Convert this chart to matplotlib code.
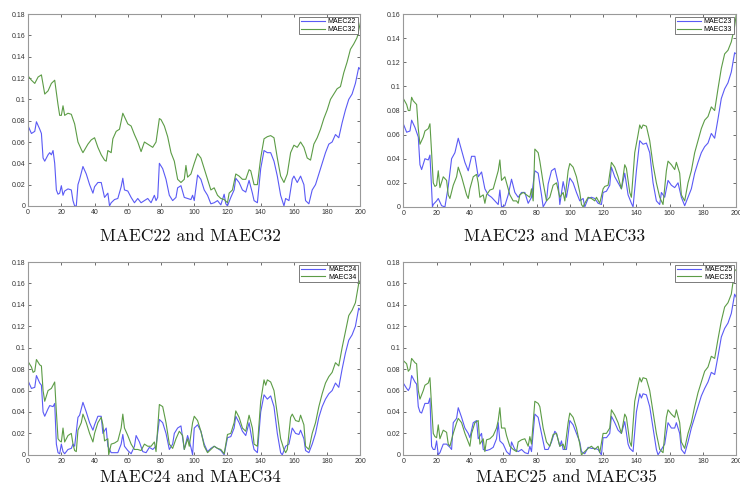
import matplotlib
matplotlib.use('Agg')
import matplotlib.pyplot as plt
from matplotlib.ticker import FuncFormatter, MultipleLocator

# MAEC22 / MAEC32
x22 = [0,2,4,5,7,8,9,10,12,13,14,15,16,17,18,19,20,21,22,24,26,27,28,29,30,31,33,35,37,39,40,42,44,46,48,49,50,52,54,56,57,58,60,62,64,66,68,70,72,74,76,77,78,79,81,83,85,87,89,90,92,94,96,98,99,100,102,104,106,108,110,112,114,116,118,119,120,122,124,125,127,129,131,133,135,136,138,140,142,144,146,148,150,152,154,155,157,159,160,162,164,166,167,169,171,173,175,177,179,181,183,185,187,189,191,193,195,197,199,200]
y22 = [0.075,0.068,0.070,0.079,0.072,0.068,0.045,0.042,0.048,0.050,0.048,0.052,0.040,0.015,0.011,0.012,0.019,0.010,0.014,0.016,0.015,0.005,0.0,0.0,0.020,0.025,0.037,0.030,0.020,0.012,0.018,0.022,0.022,0.008,0.012,0.0,0.003,0.006,0.007,0.018,0.026,0.015,0.014,0.008,0.003,0.007,0.003,0.005,0.007,0.003,0.010,0.005,0.008,0.040,0.035,0.025,0.010,0.005,0.008,0.017,0.019,0.008,0.007,0.006,0.010,0.005,0.029,0.025,0.015,0.010,0.002,0.003,0.005,0.001,0.011,0.002,0.0,0.008,0.015,0.026,0.022,0.015,0.013,0.024,0.012,0.005,0.003,0.035,0.052,0.050,0.050,0.042,0.028,0.010,0.0,0.007,0.005,0.025,0.028,0.022,0.028,0.020,0.005,0.002,0.015,0.020,0.030,0.040,0.050,0.058,0.060,0.067,0.064,0.078,0.090,0.100,0.105,0.115,0.130,0.128]
x32 = [0,2,4,6,8,10,12,14,16,18,19,20,21,22,24,26,28,30,32,33,36,38,40,42,44,46,47,48,50,51,53,55,57,60,62,64,66,68,70,72,75,77,79,80,82,84,86,88,90,92,94,95,96,98,100,102,104,106,108,110,112,114,116,118,120,121,123,125,127,129,131,133,134,136,138,140,142,144,146,148,150,152,154,156,158,160,162,164,166,168,170,172,174,176,178,180,182,184,186,188,190,192,194,196,198,200]
y32 = [0.122,0.118,0.115,0.121,0.123,0.105,0.108,0.115,0.118,0.095,0.085,0.085,0.094,0.085,0.087,0.086,0.077,0.060,0.053,0.050,0.058,0.062,0.064,0.055,0.048,0.043,0.042,0.052,0.050,0.063,0.070,0.072,0.087,0.077,0.075,0.067,0.060,0.051,0.060,0.058,0.055,0.060,0.082,0.081,0.075,0.065,0.050,0.042,0.025,0.022,0.025,0.038,0.027,0.030,0.040,0.049,0.045,0.035,0.025,0.015,0.017,0.010,0.007,0.006,0.003,0.012,0.015,0.030,0.028,0.025,0.025,0.034,0.033,0.020,0.020,0.045,0.063,0.065,0.066,0.064,0.045,0.028,0.022,0.030,0.050,0.057,0.055,0.060,0.055,0.045,0.043,0.058,0.064,0.072,0.082,0.090,0.100,0.105,0.110,0.112,0.125,0.135,0.147,0.152,0.158,0.172]

# MAEC23 / MAEC33
x23 = [0,2,4,5,7,9,10,11,13,15,16,17,17.5,18,20,21,23,25,27,29,31,33,35,37,39,41,43,45,47,49,51,53,55,57,58,59,61,63,65,67,69,71,73,75,77,79,81,83,84,86,87,89,91,93,94,96,98,100,102,104,106,108,109,111,113,115,117,119,120,122,124,125,127,129,131,133,135,137,138,140,142,144,146,148,150,152,154,155,157,159,161,163,165,167,169,171,173,175,177,179,181,183,185,187,189,191,193,195,197,199,200]
y23 = [0.069,0.062,0.063,0.072,0.066,0.058,0.035,0.031,0.040,0.039,0.043,0.015,0.0,0.002,0.005,0.007,0.001,0.0,0.017,0.040,0.045,0.057,0.047,0.037,0.030,0.042,0.042,0.025,0.029,0.015,0.010,0.008,0.005,0.002,0.014,0.0,0.001,0.010,0.023,0.012,0.008,0.012,0.012,0.003,0.008,0.030,0.028,0.010,0.0,0.005,0.019,0.030,0.032,0.020,0.002,0.021,0.008,0.024,0.020,0.012,0.005,0.007,0.0,0.007,0.008,0.007,0.003,0.002,0.012,0.013,0.018,0.033,0.025,0.020,0.015,0.028,0.010,0.003,0.0,0.030,0.055,0.052,0.053,0.045,0.020,0.005,0.002,0.012,0.008,0.022,0.018,0.016,0.020,0.008,0.001,0.008,0.015,0.028,0.037,0.045,0.050,0.053,0.061,0.057,0.073,0.090,0.098,0.103,0.112,0.128,0.127]
x33 = [0,2,3,4,5,6,8,9,10,12,13,15,16,17,18,19,20,21,22,24,26,27,28,30,32,33,35,37,38,39,40,42,44,45,46,48,49,50,52,54,56,57,58,59,61,62,64,66,68,69,70,72,74,76,77,78,79,81,82,84,86,88,90,92,94,96,97,99,100,102,104,106,107,108,109,111,113,115,116,118,120,121,123,125,127,129,131,133,134,136,137,139,141,142,143,144,146,148,150,152,154,156,158,159,161,163,164,166,167,169,171,173,175,177,179,181,183,185,187,189,191,193,195,197,199,200]
y33 = [0.090,0.085,0.080,0.080,0.091,0.088,0.085,0.065,0.052,0.058,0.063,0.065,0.069,0.045,0.020,0.017,0.018,0.030,0.016,0.025,0.022,0.010,0.007,0.018,0.025,0.033,0.025,0.015,0.010,0.007,0.015,0.025,0.027,0.020,0.008,0.010,0.003,0.010,0.014,0.015,0.025,0.030,0.039,0.022,0.025,0.020,0.010,0.005,0.005,0.003,0.010,0.012,0.010,0.008,0.015,0.005,0.048,0.045,0.038,0.020,0.005,0.008,0.018,0.020,0.008,0.012,0.005,0.030,0.036,0.033,0.025,0.012,0.002,0.0,0.003,0.008,0.007,0.005,0.008,0.003,0.015,0.017,0.018,0.037,0.033,0.025,0.015,0.035,0.032,0.012,0.008,0.045,0.060,0.068,0.065,0.068,0.067,0.055,0.035,0.020,0.008,0.002,0.030,0.038,0.035,0.031,0.037,0.028,0.010,0.005,0.020,0.030,0.045,0.055,0.065,0.072,0.075,0.083,0.080,0.098,0.115,0.127,0.130,0.137,0.150,0.160]

# MAEC24 / MAEC34
x24 = [0,2,4,5,7,8,9,10,12,13,15,16,17,18,19,20,21,22,24,26,27,28,30,31,33,35,37,39,40,42,44,45,47,48,50,52,54,56,57,58,60,62,64,65,67,69,71,73,75,77,79,81,83,85,87,88,90,92,94,96,98,99,100,102,104,106,108,110,112,114,116,118,120,122,124,125,127,129,131,133,135,136,138,140,142,144,146,148,150,152,153,155,157,159,161,163,164,166,167,169,171,173,175,177,179,181,183,185,187,189,191,193,195,197,199,200]
y24 = [0.069,0.062,0.063,0.074,0.067,0.065,0.040,0.036,0.043,0.046,0.045,0.048,0.010,0.002,0.001,0.010,0.003,0.001,0.005,0.006,0.010,0.008,0.035,0.037,0.049,0.040,0.030,0.023,0.028,0.036,0.036,0.020,0.025,0.008,0.002,0.002,0.002,0.010,0.019,0.008,0.004,0.001,0.008,0.018,0.012,0.003,0.002,0.007,0.005,0.008,0.033,0.030,0.020,0.005,0.010,0.020,0.025,0.027,0.005,0.018,0.007,0.0,0.025,0.028,0.022,0.010,0.003,0.006,0.008,0.006,0.004,0.0,0.016,0.017,0.025,0.036,0.030,0.022,0.018,0.030,0.012,0.005,0.002,0.040,0.056,0.052,0.055,0.045,0.020,0.002,0.0,0.008,0.010,0.025,0.020,0.019,0.023,0.015,0.004,0.002,0.010,0.020,0.035,0.045,0.052,0.057,0.060,0.067,0.063,0.080,0.095,0.107,0.112,0.120,0.137,0.135]
x34 = [0,2,3,4,5,7,8,9,10,12,14,15,16,17,18,19,20,21,22,24,26,27,28,29,30,32,33,35,37,39,40,42,44,45,46,48,48.5,50,52,54,56,57,58,60,62,64,66,68,70,72,74,76,77,79,81,83,85,87,89,91,93,94,96,97,99,100,102,104,106,108,110,112,114,116,118,120,122,124,125,127,129,131,133,135,136,138,140,142,143,144,146,148,150,152,154,155,156,158,159,161,163,164,166,167,169,171,173,175,177,179,181,183,185,187,189,191,193,195,197,199,200]
y34 = [0.087,0.082,0.077,0.078,0.089,0.084,0.083,0.060,0.050,0.060,0.062,0.065,0.068,0.040,0.015,0.013,0.012,0.025,0.012,0.018,0.020,0.010,0.004,0.003,0.023,0.030,0.038,0.030,0.020,0.012,0.020,0.030,0.035,0.028,0.013,0.015,0.0,0.010,0.011,0.013,0.025,0.038,0.025,0.018,0.010,0.005,0.005,0.004,0.010,0.008,0.008,0.012,0.003,0.047,0.045,0.030,0.010,0.006,0.015,0.022,0.018,0.005,0.015,0.008,0.030,0.036,0.032,0.022,0.008,0.002,0.005,0.008,0.006,0.005,0.001,0.019,0.020,0.030,0.041,0.035,0.025,0.022,0.037,0.025,0.010,0.008,0.050,0.070,0.065,0.070,0.068,0.060,0.038,0.015,0.005,0.002,0.005,0.035,0.038,0.032,0.031,0.037,0.028,0.008,0.005,0.020,0.030,0.045,0.057,0.067,0.073,0.077,0.086,0.083,0.100,0.115,0.130,0.135,0.142,0.160,0.163]

# MAEC25 / MAEC35
x25 = [0,2,3,4,5,7,8,9,10,11,13,15,16,17,18,19,20,21,22,24,26,28,29,30,32,33,35,37,39,40,42,44,45,47,48,50,52,54,56,57,58,60,62,64,65,67,69,71,73,75,76,77,79,81,83,85,87,89,91,92,94,95,96,98,100,102,104,106,107,109,111,113,115,117,119,120,122,124,125,127,129,131,133,135,136,138,140,142,143,144,146,148,150,152,153,155,157,159,161,163,164,166,167,169,171,173,175,177,179,181,183,185,187,189,191,193,195,197,199,200]
y25 = [0.067,0.062,0.060,0.063,0.074,0.068,0.066,0.045,0.040,0.039,0.048,0.048,0.053,0.008,0.005,0.005,0.013,0.0,0.002,0.010,0.010,0.007,0.005,0.030,0.034,0.044,0.035,0.025,0.020,0.016,0.030,0.032,0.015,0.020,0.005,0.004,0.005,0.007,0.015,0.030,0.013,0.010,0.003,0.0,0.012,0.005,0.003,0.005,0.002,0.001,0.008,0.003,0.038,0.035,0.020,0.005,0.005,0.012,0.022,0.020,0.008,0.013,0.005,0.005,0.032,0.028,0.020,0.012,0.003,0.001,0.007,0.006,0.006,0.005,0.0,0.016,0.016,0.020,0.036,0.030,0.023,0.020,0.031,0.010,0.006,0.003,0.040,0.057,0.053,0.057,0.056,0.045,0.025,0.005,0.0,0.005,0.010,0.030,0.025,0.025,0.030,0.020,0.005,0.001,0.012,0.025,0.035,0.045,0.055,0.062,0.068,0.077,0.075,0.092,0.110,0.118,0.123,0.132,0.150,0.147]
x35 = [0,2,3,4,5,7,8,9,10,12,13,15,16,17,18,19,20,21,22,24,26,27,28,30,32,33,35,37,39,40,41,43,45,46,48,49,50,52,54,56,57,58,59,61,62,64,66,68,69,71,73,75,76,77,79,81,82,84,86,88,90,92,94,96,97,99,100,102,104,106,107,109,111,113,115,117,118,120,122,124,125,127,129,131,133,134,136,137,139,141,142,143,144,146,148,150,152,154,156,158,159,161,163,164,166,167,169,171,173,175,177,179,181,183,185,187,189,191,193,195,197,199,200]
y35 = [0.088,0.085,0.078,0.080,0.090,0.086,0.085,0.060,0.052,0.060,0.065,0.067,0.072,0.045,0.020,0.017,0.016,0.028,0.015,0.023,0.021,0.010,0.008,0.020,0.030,0.034,0.030,0.020,0.012,0.008,0.020,0.030,0.032,0.010,0.015,0.003,0.014,0.015,0.018,0.025,0.032,0.044,0.025,0.025,0.018,0.008,0.005,0.003,0.012,0.014,0.015,0.008,0.017,0.010,0.050,0.048,0.045,0.025,0.012,0.008,0.019,0.020,0.008,0.010,0.005,0.030,0.039,0.035,0.025,0.010,0.0,0.003,0.006,0.008,0.005,0.008,0.002,0.020,0.020,0.025,0.042,0.037,0.030,0.020,0.038,0.035,0.012,0.008,0.050,0.065,0.072,0.068,0.072,0.071,0.060,0.040,0.020,0.005,0.002,0.035,0.042,0.038,0.035,0.042,0.030,0.012,0.006,0.020,0.030,0.045,0.058,0.068,0.078,0.082,0.092,0.090,0.108,0.125,0.138,0.142,0.150,0.172,0.173]

panels = [
    (x22, y22, x32, y32, 'MAEC22', 'MAEC32', 0.18),
    (x23, y23, x33, y33, 'MAEC23', 'MAEC33', 0.16),
    (x24, y24, x34, y34, 'MAEC24', 'MAEC34', 0.18),
    (x25, y25, x35, y35, 'MAEC25', 'MAEC35', 0.18),
]

#  axes boxes in figure fractions (left, bottom, width, height)
boxes = [
    [0.038, 0.578, 0.449, 0.393],
    [0.545, 0.576, 0.450, 0.395],
    [0.038, 0.068, 0.449, 0.395],
    [0.545, 0.068, 0.450, 0.395],
]
caption_pos = [(0.257, 0.515), (0.750, 0.515), (0.257, 0.022), (0.765, 0.022)]

blue = '#5a5af5'
green = '#5c9c46'

fig = plt.figure(figsize=(7.4, 4.88), dpi=100)

for i in range(4):
    xa, ya, xb, yb, la, lb, ytop = panels[i]
    ax = fig.add_axes(boxes[i])
    ax.plot(xa, ya, color=blue, lw=0.8, label=la)
    ax.plot(xb, yb, color=green, lw=0.8, label=lb)
    ax.set_xlim(0, 200)
    ax.set_ylim(0, ytop)
    ax.xaxis.set_major_locator(MultipleLocator(20))
    ax.yaxis.set_major_locator(MultipleLocator(0.02))
    ax.yaxis.set_major_formatter(FuncFormatter(lambda v, p: '%g' % round(v, 4)))
    ax.tick_params(direction='in', length=2.5, width=0.6, labelsize=5,
                   colors='#555555', labelcolor='#333333', top=True, right=True, pad=2)
    for s in ax.spines.values():
        s.set_color('#999999')
        s.set_linewidth(0.8)
    for t in ax.get_xticklabels() + ax.get_yticklabels():
        t.set_family('Liberation Sans')
    leg = ax.legend(loc='upper right', prop={'size': 5, 'family': 'Liberation Sans'},
                    fancybox=False, borderpad=0.2, handlelength=3.5, handletextpad=0.4,
                    labelspacing=0.1, borderaxespad=0.4, framealpha=1)
    leg.get_frame().set_edgecolor('#666666')
    leg.get_frame().set_linewidth(0.6)
    fig.text(caption_pos[i][0], caption_pos[i][1], la + ' and ' + lb,
             family='cmr10', fontsize=12.5, ha='center', va='center', color='#111111')

plt.savefig('out.png', dpi=100)
